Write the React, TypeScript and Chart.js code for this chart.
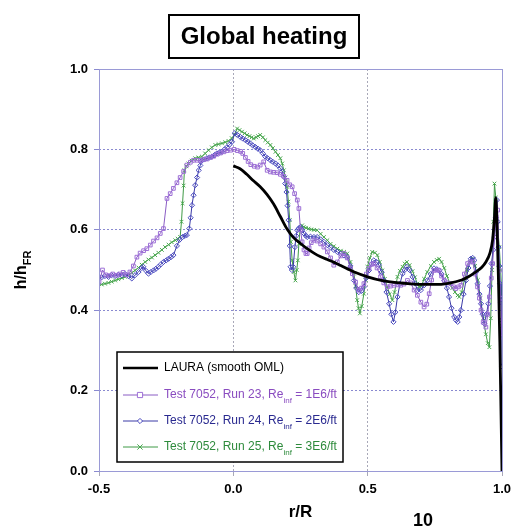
import React, { useEffect, useRef } from "react";
import { Chart, registerables } from "chart.js";

Chart.register(...registerables);

const FONT = 'Arial, "Liberation Sans", Helvetica, sans-serif';

const X_TICKS = [-0.5, 0.0, 0.5, 1.0];
const Y_TICKS = [0.0, 0.2, 0.4, 0.6, 0.8, 1.0];

const TITLE = "Global heating";
const X_TITLE = "r/R";
const PAGE_NUMBER = "10";

// LAURA (smooth OML)
const LAURA: [number, number][] = [
  [0.0, 0.759], [0.025, 0.752], [0.05, 0.738], [0.075, 0.722], [0.1, 0.707], [0.125, 0.688],
  [0.15, 0.664], [0.175, 0.633], [0.2, 0.602], [0.225, 0.58], [0.25, 0.566], [0.275, 0.553],
  [0.3, 0.542], [0.325, 0.533], [0.35, 0.526], [0.375, 0.519], [0.4, 0.511], [0.45, 0.495],
  [0.5, 0.483], [0.55, 0.474], [0.6, 0.469], [0.65, 0.466], [0.7, 0.464], [0.75, 0.464],
  [0.8, 0.467], [0.85, 0.475], [0.875, 0.483], [0.9, 0.494], [0.925, 0.507], [0.94, 0.52],
  [0.955, 0.542], [0.965, 0.575], [0.972, 0.63], [0.977, 0.68], [0.982, 0.6], [0.987, 0.47],
  [0.992, 0.32], [0.996, 0.16], [1.0, 0.0],
];

// Test 7052, Run 23, Re_inf = 1E6/ft
const RUN23: [number, number][] = [
  [-0.5, 0.47], [-0.487, 0.5], [-0.475, 0.488], [-0.462, 0.486], [-0.449, 0.49], [-0.436, 0.487],
  [-0.423, 0.49], [-0.41, 0.494], [-0.397, 0.488], [-0.385, 0.495], [-0.372, 0.51], [-0.359, 0.532],
  [-0.347, 0.542], [-0.334, 0.548], [-0.322, 0.553], [-0.309, 0.562], [-0.297, 0.572], [-0.284, 0.58],
  [-0.272, 0.591], [-0.26, 0.603], [-0.247, 0.678], [-0.235, 0.69], [-0.223, 0.703], [-0.21, 0.717],
  [-0.198, 0.73], [-0.185, 0.745], [-0.173, 0.761], [-0.16, 0.768], [-0.148, 0.773], [-0.135, 0.773],
  [-0.123, 0.772], [-0.11, 0.775], [-0.098, 0.776], [-0.085, 0.78], [-0.073, 0.783], [-0.06, 0.788],
  [-0.048, 0.791], [-0.035, 0.794], [-0.023, 0.797], [-0.01, 0.798], [0.003, 0.8], [0.015, 0.797],
  [0.027, 0.795], [0.035, 0.79], [0.045, 0.78], [0.055, 0.77], [0.065, 0.762], [0.078, 0.758],
  [0.09, 0.756], [0.1, 0.761], [0.113, 0.769], [0.126, 0.748], [0.138, 0.744], [0.15, 0.743],
  [0.163, 0.742], [0.175, 0.738], [0.188, 0.733], [0.2, 0.723], [0.21, 0.712], [0.219, 0.707],
  [0.228, 0.69], [0.238, 0.674], [0.244, 0.653], [0.25, 0.6], [0.256, 0.57], [0.263, 0.55],
  [0.27, 0.541], [0.275, 0.541], [0.282, 0.555], [0.29, 0.568], [0.3, 0.574], [0.312, 0.572],
  [0.325, 0.565], [0.337, 0.557], [0.35, 0.545], [0.362, 0.53], [0.374, 0.512], [0.387, 0.52],
  [0.4, 0.535], [0.412, 0.541], [0.424, 0.53], [0.436, 0.505], [0.443, 0.491], [0.455, 0.47],
  [0.467, 0.45], [0.477, 0.455], [0.486, 0.466], [0.495, 0.49], [0.505, 0.504], [0.515, 0.514],
  [0.523, 0.516], [0.535, 0.505], [0.548, 0.483], [0.56, 0.468], [0.573, 0.458], [0.585, 0.46],
  [0.598, 0.462], [0.61, 0.463], [0.623, 0.462], [0.635, 0.465], [0.648, 0.474], [0.66, 0.468],
  [0.673, 0.45], [0.685, 0.437], [0.698, 0.42], [0.71, 0.408], [0.72, 0.415], [0.729, 0.441],
  [0.738, 0.475], [0.747, 0.499], [0.757, 0.5], [0.766, 0.499], [0.775, 0.485], [0.785, 0.474],
  [0.797, 0.468], [0.81, 0.466], [0.82, 0.458], [0.828, 0.454], [0.838, 0.458], [0.847, 0.462],
  [0.86, 0.49], [0.872, 0.516], [0.882, 0.52], [0.891, 0.52], [0.9, 0.49], [0.909, 0.458],
  [0.916, 0.43], [0.922, 0.4], [0.93, 0.37], [0.94, 0.358], [0.947, 0.39], [0.953, 0.433],
  [0.96, 0.48], [0.965, 0.516], [0.972, 0.582], [0.978, 0.632], [0.984, 0.649], [0.99, 0.499],
  [0.995, 0.43], [1.0, 0.333],
];

// Test 7052, Run 24, Re_inf = 2E6/ft
const RUN24: [number, number][] = [
  [-0.503, 0.479], [-0.49, 0.482], [-0.478, 0.485], [-0.465, 0.483], [-0.453, 0.487], [-0.44, 0.485],
  [-0.428, 0.488], [-0.415, 0.487], [-0.403, 0.49], [-0.39, 0.485], [-0.378, 0.479], [-0.366, 0.487],
  [-0.353, 0.495], [-0.341, 0.505], [-0.335, 0.508], [-0.325, 0.498], [-0.316, 0.491], [-0.307, 0.495],
  [-0.297, 0.499], [-0.288, 0.503], [-0.279, 0.508], [-0.27, 0.514], [-0.26, 0.52], [-0.25, 0.524],
  [-0.241, 0.528], [-0.232, 0.532], [-0.223, 0.537], [-0.21, 0.56], [-0.2, 0.575], [-0.189, 0.582],
  [-0.18, 0.585], [-0.173, 0.587], [-0.164, 0.603], [-0.159, 0.63], [-0.154, 0.661], [-0.148, 0.686],
  [-0.142, 0.711], [-0.135, 0.73], [-0.129, 0.748], [-0.123, 0.76], [-0.117, 0.772], [-0.108, 0.775],
  [-0.098, 0.778], [-0.089, 0.78], [-0.08, 0.782], [-0.07, 0.786], [-0.061, 0.79], [-0.052, 0.792],
  [-0.042, 0.794], [-0.033, 0.8], [-0.024, 0.805], [-0.014, 0.812], [-0.005, 0.819], [0.005, 0.84],
  [0.015, 0.836], [0.026, 0.831], [0.035, 0.827], [0.045, 0.823], [0.054, 0.819], [0.063, 0.815],
  [0.072, 0.81], [0.082, 0.806], [0.091, 0.802], [0.1, 0.798], [0.11, 0.79], [0.119, 0.782],
  [0.128, 0.778], [0.138, 0.773], [0.147, 0.769], [0.157, 0.765], [0.166, 0.76], [0.175, 0.753],
  [0.182, 0.745], [0.188, 0.732], [0.193, 0.715], [0.198, 0.694], [0.202, 0.66], [0.206, 0.624],
  [0.21, 0.56], [0.213, 0.508], [0.218, 0.5], [0.223, 0.508], [0.229, 0.557], [0.234, 0.585],
  [0.238, 0.599], [0.244, 0.604], [0.25, 0.607], [0.256, 0.6], [0.263, 0.591], [0.27, 0.585],
  [0.275, 0.582], [0.287, 0.583], [0.3, 0.582], [0.312, 0.582], [0.325, 0.576], [0.337, 0.57],
  [0.35, 0.562], [0.362, 0.556], [0.374, 0.55], [0.387, 0.545], [0.4, 0.54], [0.412, 0.536],
  [0.424, 0.532], [0.436, 0.51], [0.449, 0.474], [0.458, 0.455], [0.467, 0.445], [0.477, 0.448],
  [0.486, 0.458], [0.495, 0.48], [0.505, 0.499], [0.514, 0.515], [0.523, 0.524], [0.533, 0.52],
  [0.542, 0.512], [0.552, 0.495], [0.561, 0.474], [0.57, 0.445], [0.58, 0.416], [0.588, 0.39],
  [0.596, 0.371], [0.603, 0.395], [0.611, 0.433], [0.62, 0.465], [0.63, 0.491], [0.638, 0.5],
  [0.646, 0.508], [0.656, 0.5], [0.667, 0.483], [0.676, 0.467], [0.685, 0.45], [0.698, 0.45],
  [0.71, 0.462], [0.722, 0.474], [0.735, 0.49], [0.747, 0.504], [0.757, 0.502], [0.766, 0.499],
  [0.775, 0.49], [0.785, 0.474], [0.795, 0.455], [0.803, 0.433], [0.812, 0.405], [0.822, 0.383],
  [0.829, 0.375], [0.835, 0.371], [0.841, 0.383], [0.847, 0.4], [0.857, 0.44], [0.866, 0.474],
  [0.875, 0.505], [0.884, 0.528], [0.891, 0.53], [0.897, 0.524], [0.903, 0.495], [0.909, 0.466],
  [0.916, 0.44], [0.922, 0.416], [0.928, 0.39], [0.934, 0.367], [0.942, 0.39], [0.949, 0.416],
  [0.955, 0.46], [0.961, 0.516], [0.967, 0.55], [0.972, 0.582], [0.977, 0.63], [0.981, 0.674],
  [0.984, 0.62], [0.987, 0.557], [0.99, 0.51], [0.993, 0.466], [0.996, 0.42], [0.999, 0.375],
  [1.0, 0.26],
];

// Test 7052, Run 25, Re_inf = 3E6/ft
const RUN25: [number, number][] = [
  [-0.503, 0.462], [-0.49, 0.464], [-0.478, 0.466], [-0.465, 0.468], [-0.453, 0.471], [-0.44, 0.474],
  [-0.428, 0.477], [-0.415, 0.48], [-0.403, 0.483], [-0.39, 0.488], [-0.378, 0.493], [-0.366, 0.499],
  [-0.353, 0.506], [-0.341, 0.513], [-0.328, 0.52], [-0.316, 0.526], [-0.303, 0.531], [-0.291, 0.537],
  [-0.279, 0.543], [-0.266, 0.55], [-0.254, 0.557], [-0.241, 0.563], [-0.229, 0.569], [-0.216, 0.574],
  [-0.207, 0.578], [-0.198, 0.582], [-0.193, 0.62], [-0.189, 0.666], [-0.185, 0.71], [-0.182, 0.748],
  [-0.175, 0.758], [-0.167, 0.765], [-0.155, 0.772], [-0.142, 0.778], [-0.13, 0.78], [-0.117, 0.782],
  [-0.105, 0.79], [-0.092, 0.798], [-0.08, 0.805], [-0.067, 0.811], [-0.055, 0.813], [-0.042, 0.815],
  [-0.03, 0.818], [-0.018, 0.821], [-0.006, 0.828], [0.005, 0.836], [0.014, 0.852], [0.023, 0.848],
  [0.032, 0.844], [0.042, 0.84], [0.051, 0.836], [0.06, 0.833], [0.068, 0.83], [0.076, 0.827],
  [0.085, 0.83], [0.092, 0.833], [0.1, 0.836], [0.11, 0.83], [0.119, 0.823], [0.128, 0.817],
  [0.138, 0.811], [0.147, 0.803], [0.157, 0.794], [0.166, 0.786], [0.175, 0.778], [0.182, 0.765],
  [0.188, 0.748], [0.194, 0.73], [0.2, 0.707], [0.205, 0.67], [0.21, 0.624], [0.214, 0.57],
  [0.219, 0.524], [0.225, 0.495], [0.231, 0.474], [0.236, 0.5], [0.24, 0.524], [0.244, 0.565],
  [0.248, 0.599], [0.256, 0.611], [0.262, 0.607], [0.27, 0.605], [0.28, 0.603], [0.29, 0.601],
  [0.3, 0.6], [0.312, 0.599], [0.325, 0.59], [0.337, 0.582], [0.35, 0.574], [0.362, 0.565],
  [0.374, 0.559], [0.387, 0.553], [0.4, 0.548], [0.412, 0.545], [0.424, 0.541], [0.436, 0.52],
  [0.449, 0.491], [0.455, 0.46], [0.461, 0.425], [0.466, 0.405], [0.471, 0.392], [0.478, 0.41],
  [0.486, 0.441], [0.492, 0.475], [0.499, 0.508], [0.508, 0.53], [0.517, 0.545], [0.527, 0.543],
  [0.536, 0.537], [0.545, 0.52], [0.555, 0.499], [0.564, 0.478], [0.573, 0.458], [0.582, 0.44],
  [0.592, 0.425], [0.6, 0.445], [0.611, 0.483], [0.62, 0.498], [0.63, 0.508], [0.638, 0.516],
  [0.646, 0.52], [0.656, 0.512], [0.667, 0.497], [0.676, 0.482], [0.685, 0.466], [0.692, 0.458],
  [0.7, 0.46], [0.71, 0.478], [0.722, 0.495], [0.735, 0.51], [0.747, 0.52], [0.757, 0.525],
  [0.766, 0.528], [0.775, 0.52], [0.785, 0.505], [0.795, 0.485], [0.805, 0.468], [0.815, 0.455],
  [0.825, 0.445], [0.835, 0.437], [0.841, 0.433], [0.85, 0.445], [0.86, 0.475], [0.87, 0.5],
  [0.88, 0.52], [0.891, 0.528], [0.9, 0.51], [0.91, 0.475], [0.92, 0.43], [0.93, 0.38],
  [0.94, 0.34], [0.947, 0.318], [0.953, 0.308], [0.958, 0.38], [0.963, 0.5], [0.968, 0.62],
  [0.972, 0.715], [0.977, 0.68], [0.982, 0.62], [0.99, 0.557], [0.995, 0.5], [0.998, 0.458],
  [1.0, 0.36],
];

const SERIES_NAMES = ["LAURA (smooth OML)", "Test 7052, Run 23", "Test 7052, Run 24", "Test 7052, Run 25"];
const SERIES_RE = ["", "1E6/ft", "2E6/ft", "3E6/ft"];
const SERIES_LINE = ["#000000", "#8a5cc4", "#3a3aa6", "#3f9a46"];
const SERIES_MARK = ["#000000", "#9d6fd6", "#4a4ac0", "#4aa84f"];
const SERIES_TEXT = ["#000000", "#8a4cc0", "#2a2a90", "#2e8b3c"];
const SERIES_STYLE = ["line", "rect", "rectRot", "crossRot"];

const toPts = (arr: [number, number][]) => arr.map(([x, y]) => ({ x, y }));

function drawMarker(ctx: CanvasRenderingContext2D, style: string, x: number, y: number, color: string) {
  ctx.save();
  ctx.strokeStyle = color;
  ctx.fillStyle = "#ffffff";
  ctx.lineWidth = 1;
  const r = 2.6;
  ctx.beginPath();
  if (style === "rect") {
    ctx.rect(x - r, y - r, 2 * r, 2 * r);
    ctx.fill();
    ctx.stroke();
  } else if (style === "rectRot") {
    ctx.moveTo(x, y - r);
    ctx.lineTo(x + r, y);
    ctx.lineTo(x, y + r);
    ctx.lineTo(x - r, y);
    ctx.closePath();
    ctx.fill();
    ctx.stroke();
  } else if (style === "crossRot") {
    ctx.moveTo(x - r, y - r);
    ctx.lineTo(x + r, y + r);
    ctx.moveTo(x + r, y - r);
    ctx.lineTo(x - r, y + r);
    ctx.stroke();
  }
  ctx.restore();
}

const decorPlugin = {
  id: "decor",
  afterDatasetsDraw(chart: any) {
    const ctx: CanvasRenderingContext2D = chart.ctx;
    const { left, right, top, bottom } = chart.chartArea;

    // plot frame
    ctx.save();
    ctx.strokeStyle = "#9a9ad6";
    ctx.lineWidth = 1;
    ctx.strokeRect(Math.round(left) + 0.5, Math.round(top) + 0.5, Math.round(right - left), Math.round(bottom - top));
    ctx.restore();

    // legend box
    const bx = 117, by = 352, bw = 226, bh = 110;
    ctx.save();
    ctx.fillStyle = "#ffffff";
    ctx.fillRect(bx, by, bw, bh);
    ctx.strokeStyle = "#000000";
    ctx.lineWidth = 1.5;
    ctx.strokeRect(bx, by, bw, bh);
    const rows = [368, 395, 421, 447];
    const mainFont = `12px ${FONT}`;
    const subFont = `8px ${FONT}`;
    for (let i = 0; i < SERIES_NAMES.length; i++) {
      const cy = rows[i];
      ctx.beginPath();
      ctx.strokeStyle = SERIES_LINE[i];
      ctx.lineWidth = i === 0 ? 2.5 : 1;
      ctx.moveTo(123, cy);
      ctx.lineTo(158, cy);
      ctx.stroke();
      if (i > 0) drawMarker(ctx, SERIES_STYLE[i], 140, cy, SERIES_MARK[i]);
      ctx.fillStyle = SERIES_TEXT[i];
      ctx.textBaseline = "middle";
      ctx.textAlign = "left";
      ctx.font = mainFont;
      let tx = 164;
      if (i === 0) {
        ctx.fillText(SERIES_NAMES[i], tx, cy);
      } else {
        const s1 = `${SERIES_NAMES[i]}, Re`;
        ctx.fillText(s1, tx, cy);
        tx += ctx.measureText(s1).width;
        ctx.font = subFont;
        ctx.fillText("inf", tx, cy + 6);
        tx += ctx.measureText("inf").width;
        ctx.font = mainFont;
        ctx.fillText(` = ${SERIES_RE[i]}`, tx, cy);
      }
    }
    ctx.restore();
  },
  afterDraw(chart: any) {
    const ctx: CanvasRenderingContext2D = chart.ctx;
    const { top, bottom } = chart.chartArea;
    ctx.save();
    // title box
    ctx.strokeStyle = "#000000";
    ctx.lineWidth = 2;
    ctx.strokeRect(169, 15, 190, 43);
    ctx.fillStyle = "#000000";
    ctx.font = `bold 24px ${FONT}`;
    ctx.textAlign = "center";
    ctx.textBaseline = "middle";
    ctx.fillText(TITLE, 264, 37);

    // y-axis title h/h_FR
    const cy = (top + bottom) / 2;
    ctx.translate(22, cy);
    ctx.rotate(-Math.PI / 2);
    const mainF = `bold 16px ${FONT}`;
    const subF = `bold 11px ${FONT}`;
    ctx.font = mainF;
    const w1 = ctx.measureText("h/h").width;
    ctx.font = subF;
    const w2 = ctx.measureText("FR").width;
    const start = -(w1 + w2) / 2;
    ctx.textAlign = "left";
    ctx.textBaseline = "middle";
    ctx.font = mainF;
    ctx.fillText("h/h", start, 0);
    ctx.font = subF;
    ctx.fillText("FR", start + w1, 6);
    ctx.restore();

    // page number
    ctx.save();
    ctx.fillStyle = "#000000";
    ctx.font = `bold 18px ${FONT}`;
    ctx.textAlign = "center";
    ctx.textBaseline = "middle";
    ctx.fillText(PAGE_NUMBER, 423, 521);
    ctx.restore();
  },
};

export default function App() {
  const canvasRef = useRef<HTMLCanvasElement | null>(null);

  useEffect(() => {
    if (!canvasRef.current) return;
    const series = [LAURA, RUN23, RUN24, RUN25];
    const datasets = series.map((s, i) => ({
      label: SERIES_NAMES[i],
      data: toPts(s),
      borderColor: SERIES_LINE[i],
      backgroundColor: "#ffffff",
      borderWidth: i === 0 ? 2.8 : 1,
      pointStyle: i === 0 ? false : (SERIES_STYLE[i] as any),
      pointRadius: i === 0 ? 0 : 2.6,
      pointBorderColor: SERIES_MARK[i],
      pointBackgroundColor: i === 3 ? SERIES_MARK[i] : "rgba(255,255,255,0)",
      pointBorderWidth: 1,
      tension: i === 0 ? 0.4 : 0,
      cubicInterpolationMode: i === 0 ? ("monotone" as const) : ("default" as const),
      fill: false,
    }));

    const chart = new Chart(canvasRef.current, {
      type: "line",
      data: { datasets },
      options: {
        animation: false,
        responsive: false,
        maintainAspectRatio: false,
        layout: { padding: { top: 69, left: 0, right: 12, bottom: 0 } },
        plugins: { legend: { display: false }, tooltip: { enabled: false }, title: { display: false } },
        scales: {
          x: {
            type: "linear",
            min: X_TICKS[0],
            max: X_TICKS[X_TICKS.length - 1],
            afterBuildTicks: (scale: any) => {
              scale.ticks = X_TICKS.map((v) => ({ value: v }));
            },
            afterFit: (scale: any) => {
              scale.height = 60;
              scale.paddingLeft = 0;
              scale.paddingRight = 0;
            },
            ticks: {
              callback: (v: any) => Number(v).toFixed(1),
              color: "#000000",
              font: { family: FONT, size: 13, weight: "bold" },
              padding: 6,
              maxRotation: 0,
            },
            grid: {
              color: "#a8a8b8",
              lineWidth: 1,
              tickLength: 5,
              drawTicks: true,
            },
            border: { display: false, dash: [2, 2] },
            title: {
              display: true,
              text: X_TITLE,
              color: "#000000",
              font: { family: FONT, size: 17, weight: "bold" },
              padding: { top: 2, bottom: 8 },
            },
          },
          y: {
            type: "linear",
            min: Y_TICKS[0],
            max: Y_TICKS[Y_TICKS.length - 1],
            afterBuildTicks: (scale: any) => {
              scale.ticks = Y_TICKS.map((v) => ({ value: v }));
            },
            afterFit: (scale: any) => {
              scale.width = 99;
              scale.paddingTop = 0;
              scale.paddingBottom = 0;
            },
            ticks: {
              callback: (v: any) => Number(v).toFixed(1),
              color: "#000000",
              font: { family: FONT, size: 13, weight: "bold" },
              padding: 6,
            },
            grid: {
              color: "#8a8ad0",
              lineWidth: 1,
              tickLength: 5,
              drawTicks: true,
            },
            border: { display: false, dash: [2, 2] },
          },
        },
      },
      plugins: [decorPlugin],
    });
    return () => chart.destroy();
  }, []);

  return (
    <div style={{ position: "fixed", left: 0, top: 0, width: 514, height: 531, background: "#ffffff" }}>
      <canvas ref={canvasRef} width={514} height={531} style={{ display: "block", width: 514, height: 531 }} />
    </div>
  );
}
